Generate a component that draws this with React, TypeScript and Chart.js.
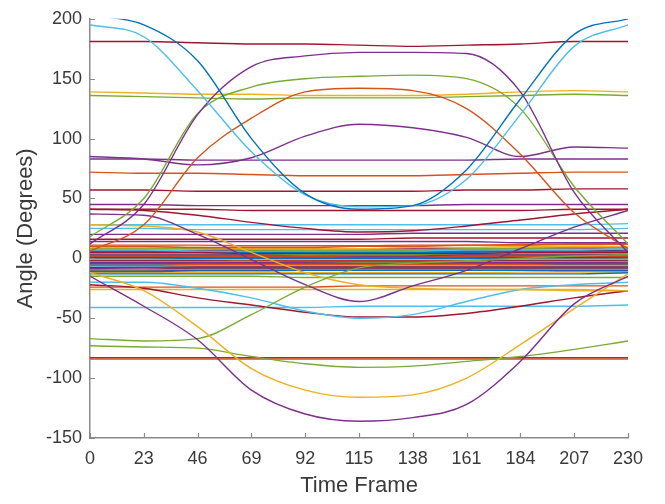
import React, { useEffect, useRef } from "react";
import { Chart, registerables } from "chart.js";

Chart.register(...registerables);

// ---- data ----
const frames = [0, 23, 46, 69, 92, 115, 138, 161, 184, 207, 230];
const xTickStep = 23;
const yTickStep = 50;
const xRange = [0, 230];
const yRange = [-150, 200];

// large curves
const blueDrop = [203, 195, 165, 100, 54, 41, 44, 74, 133, 187, 200];
const cyanDrop = [195, 185, 140, 89, 53, 43, 44, 66, 120, 177, 195];
const purpleRise = [12, 45, 120, 160, 169, 172, 172, 171, 139, 55, 5];
const greenRise = [18, 50, 121, 143, 150, 152, 153, 150, 125, 60, 12];
const orangeRise = [6, 28, 84, 117, 139, 142, 140, 125, 87, 38, 8];
const bump112 = [85, 83, 78, 84, 102, 112, 109, 101, 85, 93, 92];
const purpleDip = [-15, -40, -68, -110, -130, -136, -133, -122, -86, -38, -15];
const yellowDip = [-12, -27, -57, -92, -110, -116, -114, -100, -72, -42, -13];
const greenDip = [-73, -74, -75, -82, -88, -91, -90, -86, -82, -76, -69];
const oliveRise = [-67, -69, -67, -47, -24, -8, -4, -2, 0, 2, 3];
const vLine = [37, 36, 20, -1, -22, -36, -23, -10, 8, 26, 40];
const sagLine = [41, 40, 36, 30, 25, 22, 23, 27, 32, 37, 41];
const yellowSlope = [28, 27, 22, 5, -12, -22, -25, -26, -26, -26, -27];
const cyanDip = [-20, -20, -25, -33, -44, -50, -47, -36, -26, -22, -20];
const pinkDip = [-22, -25, -33, -39, -45, -49, -49, -46, -40, -33, -27];

// flat lines
const top180 = [181, 181, 180, 179, 179, 178, 177, 178, 179, 181, 181];
const yellow137 = [139, 138, 137, 137, 136, 136, 136, 137, 139, 140, 139];
const green135 = [136, 135, 134, 133, 134, 134, 134, 135, 136, 137, 136];
const purple82 = [83, 83, 82, 82, 82, 82, 82, 82, 83, 83, 83];
const orange71 = [72, 71, 71, 70, 69, 69, 69, 70, 71, 72, 72];
const brown57 = [57, 57, 56, 56, 56, 56, 56, 57, 57, 58, 58];
const purple45 = [45, 45, 44, 44, 44, 44, 44, 45, 45, 45, 45];
const pink41 = [41, 41, 41, 40, 40, 40, 40, 40, 40, 41, 41];
const teal28 = [28, 28, 28, 28, 28, 28, 28, 28, 28, 28, 29];
const cyan25 = [25, 25, 24, 24, 24, 24, 24, 24, 24, 24, 25];
const purple21 = [20, 20, 20, 20, 20, 20, 21, 21, 21, 21, 21];
const magenta17 = [16, 16, 16, 16, 16, 16, 17, 17, 17, 17, 17];
const magenta14 = [14, 14, 14, 14, 14, 14, 14, 14, 13, 13, 13];
const blueNeg13 = [-13, -13, -13, -13, -13, -13, -13, -13, -13, -13, -12];
const greenNeg16 = [-15, -15, -15, -15, -16, -16, -16, -16, -16, -16, -16];
const redNeg24 = [-24, -24, -24, -24, -24, -23, -23, -23, -23, -23, -23];
const yellowNeg26 = [-26, -26, -26, -26, -26, -26, -26, -26, -26, -27, -27];
const cyanNeg41 = [-41, -41, -41, -41, -41, -40, -40, -40, -40, -40, -39];
const orangeNeg84 = [-84, -84, -84, -84, -84, -84, -84, -84, -84, -84, -84];
const purpleNeg84 = [-83, -83, -83, -83, -83, -83, -83, -83, -83, -83, -83];

// dense band around zero
const b01 = [10, 10, 9, 9, 9, 10, 10, 11, 11, 12, 12];
const b02 = [9, 9, 9, 8, 8, 8, 9, 9, 10, 10, 10];
const b03 = [8, 8, 8, 7, 7, 7, 7, 8, 8, 9, 9];
const b04 = [7, 7, 6, 6, 6, 6, 6, 7, 7, 7, 8];
const b05 = [6, 6, 6, 5, 5, 5, 5, 5, 6, 6, 6];
const b06 = [5, 5, 5, 4, 4, 4, 4, 4, 5, 5, 5];
const b07 = [4, 4, 4, 4, 3, 3, 3, 4, 4, 4, 4];
const b08 = [3, 3, 3, 3, 3, 2, 2, 3, 3, 3, 3];
const b09 = [2, 2, 2, 2, 2, 2, 2, 2, 2, 2, 2];
const b10 = [1, 1, 1, 1, 1, 1, 1, 1, 1, 1, 1.5];
const b11 = [0.5, 0.5, 0, 0, 0, 0, 0, 0, 0.5, 0.5, 0.5];
const b12 = [-0.5, -0.5, -0.5, -1, -1, -1, -1, -1, -0.5, -0.5, -0.5];
const b13 = [-1.5, -1.5, -1.5, -1.5, -2, -2, -2, -1.5, -1.5, -1.5, -1.5];
const b14 = [-2.5, -2.5, -2.5, -2.5, -2.5, -3, -3, -2.5, -2.5, -2.5, -2.5];
const b15 = [-3.5, -3.5, -3.5, -3.5, -3.5, -3.5, -3.5, -3.5, -3.5, -3.5, -3];
const b16 = [-4.5, -4.5, -4, -4, -4, -4, -4, -4, -4, -4.5, -4.5];
const b17 = [-5.5, -5.5, -5, -5, -5, -5, -5, -5, -5, -5, -5];
const b18 = [-6.5, -6.5, -6, -6, -6, -6, -6, -6, -6, -6, -6];
const b19 = [-7.5, -7, -7, -7, -7, -7, -7, -7, -7, -7, -7];
const b20 = [-8.5, -8, -8, -8, -8, -8, -8, -8, -8, -8, -8];
const b21 = [-9.5, -9.5, -9, -9, -9, -9, -9, -9, -9, -9, -9];
const b22 = [-11, -11, -10.5, -10.5, -10, -10, -10, -10, -10, -10.5, -10.5];
const b23 = [-12, -12, -12, -12, -12, -12, -12, -12, -11.5, -11.5, -11.5];
const b24 = [3.5, 3.5, 3.5, 3.5, 3.5, 3.5, 3.5, 3.5, 3.5, 3.5, 3.5];
const b25 = [-1, -1, -1, -1.5, -1.5, -1.5, -1.5, -1, -1, -1, -1];
const b26 = [6.5, 6.5, 6.5, 6.5, 6, 6, 6, 6.5, 6.5, 6.5, 7];
const b27 = [-6, -6, -5.5, -5.5, -5.5, -5.5, -5.5, -5.5, -5.5, -6, -6];
const b28 = [1.5, 1.5, 1.5, 1.5, 1.5, 1.5, 1.5, 1.5, 2, 2, 2];
const b29 = [-3, -3, -3, -3, -3, -2.5, -2.5, -2.5, -3, -3, -3];
const b30 = [4.5, 4.5, 4.5, 4.5, 4.5, 4.5, 4.5, 4.5, 4.5, 5, 5];
const b31 = [-7.5, -7.5, -7.5, -7.5, -7.5, -7.5, -7.5, -7.5, -7.5, -7.5, -7.5];
const b32 = [8.5, 8.5, 8.5, 8, 8, 8, 8, 8, 8.5, 8.5, 9];
const b33 = [11, 11, 11, 10.5, 10.5, 10.5, 11, 11, 11.5, 11.5, 12];
const b34 = [0, 0, -0.5, -0.5, -0.5, -0.5, -0.5, -0.5, 0, 0, 0];
const b35 = [-2, -2, -2, -2, -2, -2, -2, -2, -2, -2, -2];
const b36 = [-4, -4, -4, -4.5, -4.5, -4.5, -4.5, -4.5, -4.5, -4, -4];
const b37 = [-9, -9, -8.5, -8.5, -8.5, -8.5, -8.5, -8.5, -8.5, -8.5, -8.5];
const b38 = [2.5, 2.5, 2.5, 2.5, 2.5, 2.5, 2.5, 2.5, 2.5, 2.5, 2.5];
const b39 = [5.5, 5.5, 5.5, 5.5, 5.5, 5.5, 5.5, 5.5, 5.5, 5.5, 5.5];
const b40 = [-10, -10, -10, -10, -9.5, -9.5, -9.5, -9.5, -9.5, -10, -10];

// ---- styles ----
const BLUE = "#0072BD";
const ORANGE = "#D95319";
const YELLOW = "#EDB120";
const PURPLE = "#7E2F8E";
const GREEN = "#77AC30";
const CYAN = "#4DBEEE";
const RED = "#A2142F";
const AXIS = "#8a8a8a";
const TEXT = "#3a3a3a";
const FONT = "'Liberation Sans', Arial, Helvetica, sans-serif";

const seriesList: [number[], string][] = [
  [blueDrop, BLUE], [cyanDrop, CYAN], [purpleRise, PURPLE], [greenRise, GREEN],
  [orangeRise, ORANGE], [bump112, PURPLE], [purpleDip, PURPLE], [yellowDip, YELLOW],
  [greenDip, GREEN], [oliveRise, GREEN], [vLine, PURPLE], [sagLine, RED],
  [yellowSlope, YELLOW], [cyanDip, CYAN], [pinkDip, RED],
  [top180, RED], [yellow137, YELLOW], [green135, GREEN], [purple82, PURPLE],
  [orange71, ORANGE], [brown57, RED], [purple45, PURPLE], [pink41, RED],
  [teal28, CYAN], [cyan25, CYAN], [purple21, PURPLE], [magenta17, RED],
  [magenta14, PURPLE], [blueNeg13, BLUE], [greenNeg16, GREEN], [redNeg24, ORANGE],
  [yellowNeg26, YELLOW], [cyanNeg41, CYAN], [orangeNeg84, ORANGE], [purpleNeg84, PURPLE],
  [b01, ORANGE], [b02, YELLOW], [b03, GREEN], [b04, CYAN], [b05, BLUE], [b06, RED],
  [b07, GREEN], [b08, PURPLE], [b09, ORANGE], [b10, RED], [b11, BLUE], [b12, YELLOW],
  [b13, RED], [b14, GREEN], [b15, PURPLE], [b16, BLUE], [b17, ORANGE], [b18, CYAN],
  [b19, RED], [b20, PURPLE], [b21, GREEN], [b22, BLUE], [b23, YELLOW], [b24, RED],
  [b25, GREEN], [b26, RED], [b27, BLUE], [b28, PURPLE], [b29, ORANGE], [b30, YELLOW],
  [b31, GREEN], [b32, PURPLE], [b33, ORANGE], [b34, RED], [b35, BLUE], [b36, GREEN],
  [b37, RED], [b38, CYAN], [b39, ORANGE], [b40, PURPLE],
];

const inwardTicks = {
  id: "inwardTicks",
  afterDraw(chart: any) {
    const { ctx, chartArea, scales } = chart;
    ctx.save();
    ctx.strokeStyle = AXIS;
    ctx.lineWidth = 1.2;
    ctx.beginPath();
    scales.x.ticks.forEach((t: any) => {
      const px = Math.round(scales.x.getPixelForValue(t.value)) + 0.5;
      ctx.moveTo(px, chartArea.bottom);
      ctx.lineTo(px, chartArea.bottom - 5);
    });
    scales.y.ticks.forEach((t: any) => {
      const py = Math.round(scales.y.getPixelForValue(t.value)) + 0.5;
      ctx.moveTo(chartArea.left, py);
      ctx.lineTo(chartArea.left + 5, py);
    });
    ctx.stroke();
    ctx.restore();
  },
};

export default function App() {
  const ref = useRef<HTMLCanvasElement | null>(null);
  useEffect(() => {
    if (!ref.current) return;
    const datasets = seriesList.map(([vals, color]) => ({
      data: frames.map((x, i) => ({ x, y: vals[i] })),
      borderColor: color,
      backgroundColor: color,
      borderWidth: 1.4,
      pointRadius: 0,
      fill: false,
      cubicInterpolationMode: "monotone" as const,
    }));
    const chart = new Chart(ref.current, {
      type: "line",
      data: { datasets },
      options: {
        responsive: false,
        animation: false,
        layout: { padding: { top: 17, right: 37, left: 0, bottom: 0 } },
        plugins: { legend: { display: false }, tooltip: { enabled: false } },
        scales: {
          x: {
            type: "linear",
            min: xRange[0],
            max: xRange[1],
            ticks: {
              stepSize: xTickStep,
              autoSkip: false,
              maxRotation: 0,
              color: TEXT,
              padding: 10,
              font: { family: FONT, size: 18 },
            },
            grid: { display: false, drawTicks: false },
            border: { display: true, color: AXIS, width: 1.5 },
            title: {
              display: true,
              text: "Time Frame",
              color: TEXT,
              font: { family: FONT, size: 22 },
              padding: { top: 0, bottom: 5 },
            },
            afterFit: (s: any) => { s.height = 66; },
          },
          y: {
            type: "linear",
            min: yRange[0],
            max: yRange[1],
            ticks: {
              stepSize: yTickStep,
              color: TEXT,
              padding: 8,
              font: { family: FONT, size: 18 },
            },
            grid: { display: false, drawTicks: false },
            border: { display: true, color: AXIS, width: 1.5 },
            title: {
              display: true,
              text: "Angle (Degrees)",
              color: TEXT,
              font: { family: FONT, size: 22 },
              padding: { top: 13, bottom: 0 },
            },
            afterFit: (s: any) => { s.width = 90; },
          },
        },
      },
      plugins: [inwardTicks],
    });
    return () => chart.destroy();
  }, []);
  return (
    <div style={{ position: "fixed", left: 0, top: 0, width: 665, height: 504, background: "#fff" }}>
      <canvas ref={ref} width={665} height={504} style={{ display: "block" }} />
    </div>
  );
}
